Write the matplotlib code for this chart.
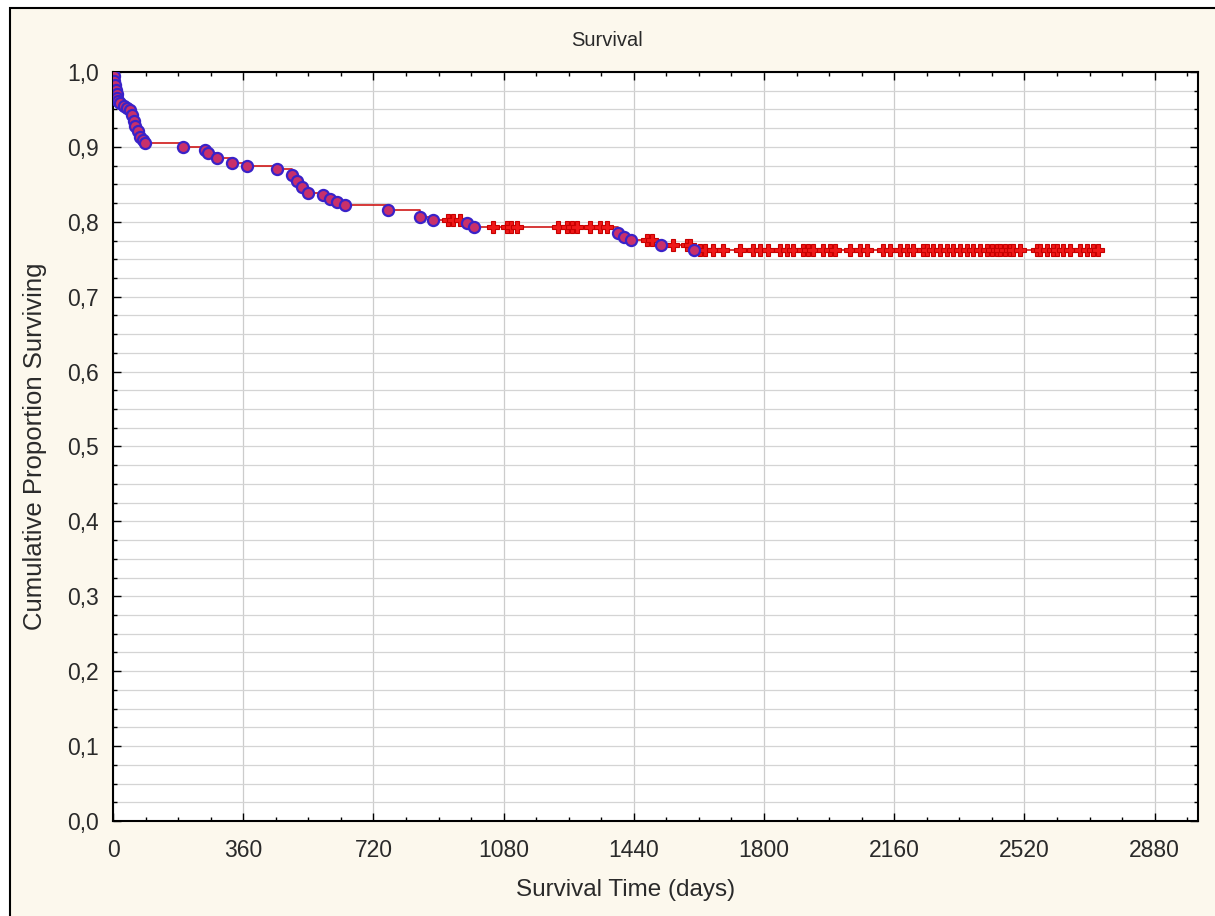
import numpy as np
import matplotlib.pyplot as plt
from matplotlib.ticker import MultipleLocator, FuncFormatter
from matplotlib.patches import Rectangle

# Kaplan-Meier estimate: event (complete) times and survival after each event
event_days = [2, 4, 6, 8, 10, 12, 14, 18, 30, 40, 47, 52, 57, 62, 68, 75, 82, 89,
              194, 255, 262, 288, 330, 371, 454, 496, 509, 522, 540, 582, 601, 620,
              642, 759, 850, 886, 980, 997, 1396, 1412, 1432, 1515, 1607]
surv = [0.994, 0.988, 0.982, 0.976, 0.970, 0.965, 0.961, 0.958, 0.955, 0.952, 0.949,
        0.942, 0.935, 0.928, 0.921, 0.913, 0.909, 0.905, 0.900, 0.896, 0.892, 0.885,
        0.879, 0.874, 0.870, 0.863, 0.854, 0.847, 0.839, 0.836, 0.830, 0.826, 0.823,
        0.816, 0.807, 0.803, 0.799, 0.793, 0.785, 0.780, 0.776, 0.769, 0.762]

# censored observations (days)
censored_days = [925, 940, 959, 1050, 1089, 1100, 1117, 1230, 1255, 1269, 1282, 1318,
                 1346, 1365, 1476, 1490, 1548, 1587, 1595, 1622, 1636, 1658, 1686,
                 1733, 1769, 1788, 1810, 1844, 1863, 1879, 1907, 1921, 1935, 1962,
                 1982, 1996, 2037, 2065, 2084, 2128, 2148, 2175, 2195, 2211, 2239,
                 2250, 2266, 2286, 2305, 2322, 2341, 2360, 2377, 2396, 2416, 2430,
                 2443, 2452, 2465, 2479, 2488, 2507, 2554, 2562, 2582, 2598, 2609,
                 2626, 2645, 2673, 2692, 2709, 2723]

plt.rcParams['font.family'] = ['Liberation Sans', 'DejaVu Sans']
TXT = '#2a2a2a'

fig = plt.figure(figsize=(12.15, 9.16), dpi=100, facecolor='white')
W, H = 1215, 916
# cream panel with black frame (left/top edge visible)
fig.add_artist(Rectangle((10 / W, -0.01), 1.02, 1 - 8 / H + 0.01, transform=fig.transFigure,
                         facecolor='#fcf8ed', edgecolor='black', lw=1.5, zorder=-10))

ax = fig.add_axes([113 / W, 95 / H, 1085 / W, 749 / H])
ax.set_facecolor('white')

# step curve
t_line = np.concatenate([[0], event_days, [max(censored_days)]])
s_line = np.concatenate([[1.0], surv, [surv[-1]]])
ax.plot(t_line, s_line, drawstyle='steps-post', color='#d01818', lw=1.2, zorder=3)

# censored marks sit on the curve
idx = np.searchsorted(event_days, censored_days, side='right') - 1
s_cens = np.where(idx >= 0, np.array(surv)[np.clip(idx, 0, None)], 1.0)
ax.plot(censored_days, s_cens, ls='none', marker='P', ms=8.5, mfc='#f01818',
        mec='#c80000', mew=0.8, zorder=4)

# complete observations
ax.plot(event_days, surv, ls='none', marker='o', ms=8, mfc='#c8306a',
        mec='#3a22c8', mew=1.6, zorder=5)

ax.set_xlim(0, 3000)
ax.set_ylim(0, 1.0)
ax.xaxis.set_major_locator(MultipleLocator(360))
ax.xaxis.set_minor_locator(MultipleLocator(90))
ax.yaxis.set_major_locator(MultipleLocator(0.1))
ax.yaxis.set_minor_locator(MultipleLocator(0.025))
ax.yaxis.set_major_formatter(FuncFormatter(lambda v, p: f'{v:.1f}'.replace('.', ',')))

ax.grid(which='major', axis='x', color='#cccccc', lw=0.9)
ax.grid(which='both', axis='y', color='#d4d4d4', lw=0.9)
ax.set_axisbelow(True)

ax.tick_params(which='both', direction='in', top=True, right=True, colors='black',
               labelcolor=TXT, labelsize=16.5)
ax.tick_params(which='major', length=6, width=1)
ax.tick_params(which='minor', length=3, width=1)
ax.tick_params(axis='x', pad=13)
ax.tick_params(axis='y', pad=10)
for s in ax.spines.values():
    s.set_linewidth(1.5)
    s.set_color('black')

fig.text(0.5, 1 - 40 / H, 'Survival', ha='center', va='center', fontsize=14.5, color=TXT)
fig.text(626 / W, 1 - 890 / H, 'Survival Time (days)', ha='center', va='center',
         fontsize=17.5, color=TXT)
fig.text(35 / W, 1 - 446 / H, 'Cumulative Proportion Surviving', ha='center', va='center',
         rotation=90, fontsize=18.5, color=TXT)

fig.savefig('out.png', dpi=100, facecolor=fig.get_facecolor())
